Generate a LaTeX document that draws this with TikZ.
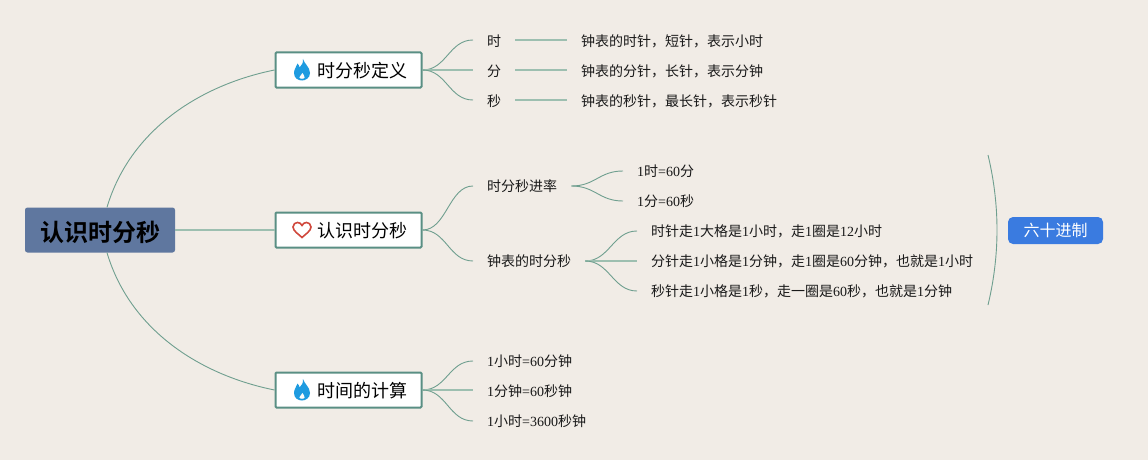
\documentclass[tikz,border=0pt]{standalone}
\usepackage{fontspec}
\setmainfont{Liberation Serif}
\newfontfamily\cjk{Noto Sans CJK SC}
\newfontfamily\cjkb{Noto Sans CJK SC Bold}
\definecolor{bgc}{HTML}{F1ECE6}
\definecolor{linec}{HTML}{6F9F8F}
\definecolor{linel}{HTML}{9DBFB0}
\definecolor{boxc}{HTML}{5A8F84}
\definecolor{rootc}{HTML}{5F779F}
\definecolor{tagc}{HTML}{3A7BE0}
\definecolor{flamec}{HTML}{1E9BE0}
\definecolor{heartc}{HTML}{D0483C}
\tikzset{
  x=1pt,y=-1pt,
  rootbox/.style={draw=none,fill=rootc,rounded corners=2.5pt,minimum width=150pt,minimum height=45pt,inner sep=0pt,text height=24pt,text depth=2pt,font=\fontsize{24}{24}\selectfont\cjkb,text=black},
  topicbox/.style={draw=boxc,line width=2pt,fill=white,rounded corners=1pt,minimum width=146pt,minimum height=35pt,inner sep=0pt,text height=17pt,text depth=1.4pt,font=\fontsize{18}{18}\selectfont\cjk,text=black},
  leaf/.style={anchor=west,inner xsep=14pt,inner ysep=2pt,font=\fontsize{14}{14}\selectfont,text=black!90},
  shortleaf/.style={leaf,text height=13pt,text depth=0.4pt},
  tagbox/.style={fill=tagc,rounded corners=5pt,minimum width=95pt,minimum height=27pt,inner sep=0pt,font=\fontsize{16}{16}\selectfont\cjk,text=white},
  conn/.style={linec,line width=0.9pt},
  connl/.style={linel,line width=1.3pt},
  flame/.style={fill=flamec,draw=none},
  heart/.style={draw=heartc,line width=1.6pt,fill=none},
}
\newcommand{\iconflame}[2]{%
  \fill[flame,shift={(#1,#2)}] (1,-11) .. controls (2,-6.5) and (8,-3) .. (8,3) .. controls (8,8) and (3.5,10.5) .. (0,10.5) .. controls (-4,10.5) and (-8,8) .. (-8,3) .. controls (-8,-1) and (-5.5,-3) .. (-4.5,-6.5) .. controls (-3,-5) and (-2.5,-3.5) .. (-2.5,-2.5) .. controls (-0.5,-4.5) and (1.5,-7) .. (1,-11) -- cycle;
  \fill[bgc!20!white,shift={(#1,#2)}] (0.5,3) .. controls (1,5) and (3,5.5) .. (2.6,7.5) .. controls (2.2,9.2) and (-2.2,9.2) .. (-2.6,7.5) .. controls (-3,6) and (0,5) .. (0.5,3) -- cycle;
}
\newcommand{\iconheart}[2]{%
  \draw[heart,shift={(#1,#2)}] (0,7.5) .. controls (-3,4.5) and (-9,1) .. (-9,-3) .. controls (-9,-6) and (-6.5,-7.5) .. (-4.5,-7.5) .. controls (-2.5,-7.5) and (-1,-6.5) .. (0,-4.5) .. controls (1,-6.5) and (2.5,-7.5) .. (4.5,-7.5) .. controls (6.5,-7.5) and (9,-6) .. (9,-3) .. controls (9,1) and (3,4.5) .. (0,7.5) -- cycle;
}
\newcommand{\sbranch}[2]{\draw[conn] (#1) .. controls +(24,0) and +(-24,0) .. (#2);}
\begin{document}
\begin{tikzpicture}
\useasboundingbox (0,0) rectangle (1148,460);
\fill[bgc] (0,0) rectangle (1148,460);

\node[rootbox] (root) at (100,230) {认识时分秒};
\node[topicbox] (t1) at (348.5,70) {\hspace*{28pt}时分秒定义};
\node[topicbox] (t2) at (348.5,230) {\hspace*{28pt}认识时分秒};
\node[topicbox] (t3) at (348.5,390) {\hspace*{28pt}时间的计算};
\iconflame{302}{70}
\iconheart{302}{230}
\iconflame{302}{390}

% Branch 1
\node[shortleaf] (a1) at (473,40) {\cjk 时};
\node[shortleaf] (a2) at (473,70) {\cjk 分};
\node[shortleaf] (a3) at (473,100) {\cjk 秒};
\node[leaf] (d1) at (567,41) {\cjk 钟表的时针，短针，表示小时};
\node[leaf] (d2) at (567,71) {\cjk 钟表的分针，长针，表示分钟};
\node[leaf] (d3) at (567,101) {\cjk 钟表的秒针，最长针，表示秒针};

% Branch 2
\node[leaf] (b1) at (473,186) {\cjk 时分秒进率};
\node[leaf] (b2) at (473,261) {\cjk 钟表的时分秒};
\node[leaf] (c1) at (623,171) {1{\cjk 时}=60{\cjk 分}};
\node[leaf] (c2) at (623,201) {1{\cjk 分}=60{\cjk 秒}};
\node[leaf] (e1) at (637,231) {{\cjk 时针走}1{\cjk 大格是}1{\cjk 小时，走}1{\cjk 圈是}12{\cjk 小时}};
\node[leaf] (e2) at (637,261) {{\cjk 分针走}1{\cjk 小格是}1{\cjk 分钟，走}1{\cjk 圈是}60{\cjk 分钟，也就是}1{\cjk 小时}};
\node[leaf] (e3) at (637,291) {{\cjk 秒针走}1{\cjk 小格是}1{\cjk 秒，走一圈是}60{\cjk 秒，也就是}1{\cjk 分钟}};
\node[tagbox] (tag) at (1055.5,230.5) {六十进制};
\coordinate (brtop) at (988,155);
\coordinate (brbot) at (988,305);

% Branch 3
\node[leaf] (f1) at (473,361) {1{\cjk 小时}=60{\cjk 分钟}};
\node[leaf] (f2) at (473,391) {1{\cjk 分钟}=60{\cjk 秒钟}};
\node[leaf] (f3) at (473,421) {1{\cjk 小时}=3600{\cjk 秒钟}};

% Connectors
\draw[conn] ([xshift=7pt]root.north) .. controls (130,130) and (200,85) .. (t1.west);
\draw[connl] (root.east) -- (t2.west);
\draw[conn] ([xshift=7pt]root.south) .. controls (130,330) and (200,375) .. (t3.west);

\sbranch{t1.east}{a1.west}
\draw[connl] (t1.east) -- (a2.west);
\sbranch{t1.east}{a3.west}
\draw[connl] (a1.east) -- (d1.west |- a1.east);
\draw[connl] (a2.east) -- (d2.west |- a2.east);
\draw[connl] (a3.east) -- (d3.west |- a3.east);

\sbranch{t2.east}{b1.west}
\sbranch{t2.east}{b2.west}
\sbranch{b1.east}{c1.west}
\sbranch{b1.east}{c2.west}
\sbranch{b2.east}{e1.west}
\draw[connl] (b2.east) -- (e2.west);
\sbranch{b2.east}{e3.west}
\draw[conn] (brtop) .. controls (1000,205) and (1000,255) .. (brbot);

\sbranch{t3.east}{f1.west}
\draw[connl] (t3.east) -- (f2.west |- t3.east);
\sbranch{t3.east}{f3.west}
\end{tikzpicture}
\end{document}
